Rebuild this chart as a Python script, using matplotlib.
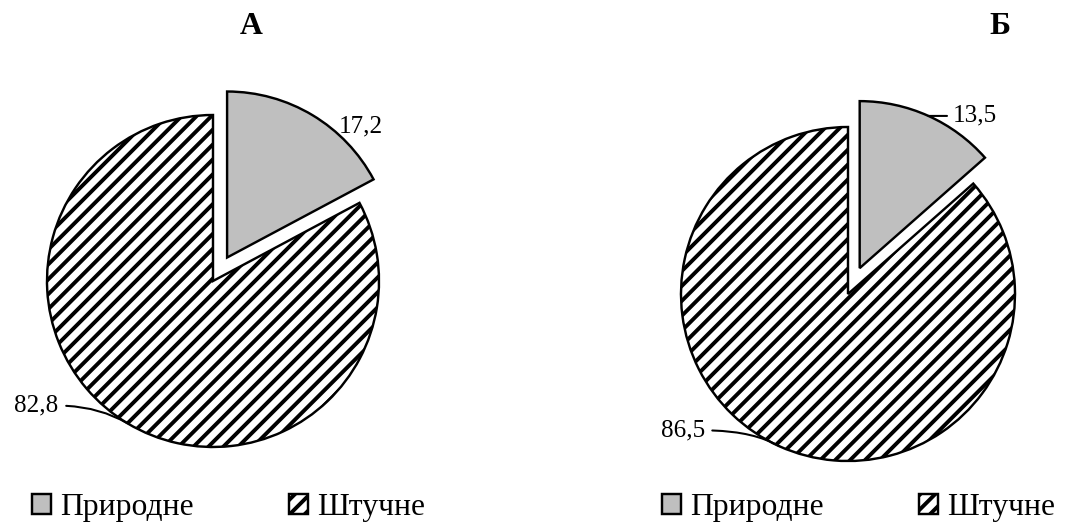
import matplotlib.pyplot as plt
import numpy as np

categories = ['Природне', 'Штучне']
titles = ['А', 'Б']
shares_a = [17.2, 82.8]
shares_b = [13.5, 86.5]

plt.rcParams['font.family'] = ['Liberation Serif', 'DejaVu Serif']
plt.rcParams['hatch.linewidth'] = 2.1
plt.rcParams['hatch.color'] = 'black'

DPI = 134
W, H = 1072, 527
fig = plt.figure(figsize=(W / DPI, H / DPI), dpi=DPI)

# pixel layout for each pie: centre, radius, explode, title x, legend x
layout = [
    dict(cx=213, cy=281, r=166, explode=0.165, tx=251, lx=32,
         small=dict(xytext=(14, -6), line=False), big=dict(xytext=(-37, 9.5))),
    dict(cx=848, cy=294, r=167, explode=0.17, tx=1000, lx=662,
         small=dict(xytext=(13, 0), line=True), big=dict(xytext=(-40, 8.5))),
]
pad = 1.3

for shares, title, lay in zip([shares_a, shares_b], titles, layout):
    cx, cy, r = lay['cx'], lay['cy'], lay['r']
    ax = fig.add_axes([(cx - pad * r) / W, (H - cy - pad * r) / H,
                       2 * pad * r / W, 2 * pad * r / H])
    wedges, _ = ax.pie(shares, explode=[lay['explode'], 0], startangle=90,
                       counterclock=False, colors=['#bfbfbf', 'white'],
                       hatch=['', '///'],
                       wedgeprops=dict(edgecolor='black', linewidth=1.3))
    ax.set_xlim(-pad, pad)
    ax.set_ylim(-pad, pad)
    ax.axis('off')

    for i, (w, v) in enumerate(zip(wedges, shares)):
        mid = np.deg2rad((w.theta1 + w.theta2) / 2)
        px = w.center[0] + w.r * np.cos(mid)
        py = w.center[1] + w.r * np.sin(mid)
        txt = f'{v:.1f}'.replace('.', ',')
        if i == 0:
            opt = lay['small']
            arrow = dict(arrowstyle='-', color='black', lw=1.1,
                         relpos=(0, 0.5), shrinkA=1, shrinkB=0) if opt['line'] else None
            ax.annotate(txt, xy=(px, py), xytext=opt['xytext'],
                        textcoords='offset points', ha='left', va='center',
                        fontsize=13.5, arrowprops=arrow)
        else:
            opt = lay['big']
            ax.annotate(txt, xy=(px, py), xytext=opt['xytext'],
                        textcoords='offset points', ha='right', va='center',
                        fontsize=13.5,
                        arrowprops=dict(arrowstyle='-', color='black', lw=1.1,
                                        relpos=(1, 0.5), shrinkA=2, shrinkB=0,
                                        connectionstyle='angle3,angleA=0,angleB=-30'))

    fig.text(lay['tx'] / W, 1 - 27 / H, title, ha='center', va='center',
             fontsize=17, fontweight='bold')

    fig.legend(wedges, categories, loc='center left',
               bbox_to_anchor=(lay['lx'] / W, 1 - 508 / H), ncol=2,
               frameon=False, fontsize=17, handlelength=0.6, handleheight=0.6,
               handletextpad=0.3, columnspacing=3.0, borderaxespad=0,
               borderpad=0)

fig.savefig('out.png', dpi=DPI, facecolor='white')
